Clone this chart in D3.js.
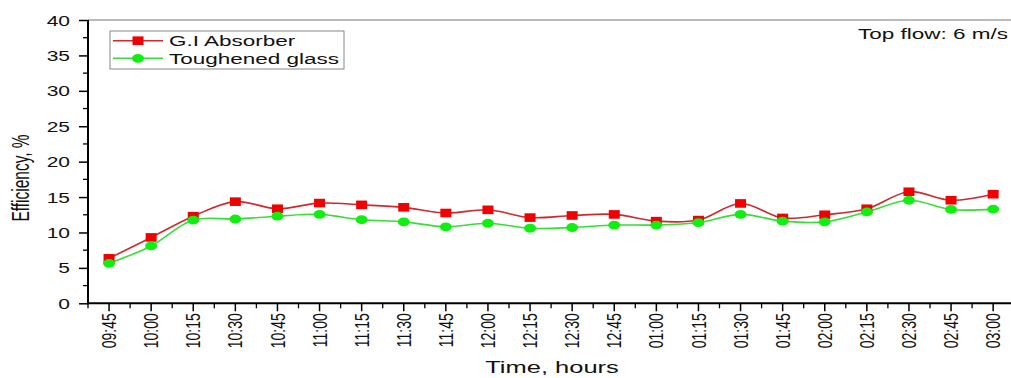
<!DOCTYPE html>
<html><head><meta charset="utf-8">
<script src="https://cdn.jsdelivr.net/npm/d3@7"></script>
<style>
body{margin:0;background:#fff;}
svg{display:block;font-family:Arial,"Liberation Sans",sans-serif;}
</style></head>
<body><svg id="c" width="1011" height="378"></svg>
<script>
const times = ["09:45","10:00","10:15","10:30","10:45","11:00","11:15","11:30","11:45","12:00","12:15","12:30","12:45","01:00","01:15","01:30","01:45","02:00","02:15","02:30","02:45","03:00"];
const giAbsorber = [6.35,9.3,12.3,14.35,13.35,14.15,13.9,13.55,12.75,13.2,12.1,12.4,12.55,11.6,11.75,14.1,12.05,12.5,13.35,15.75,14.55,15.4];
const toughenedGlass = [5.65,8.1,11.75,11.9,12.3,12.55,11.8,11.5,10.8,11.3,10.6,10.7,11.05,11.05,11.4,12.55,11.6,11.5,12.9,14.55,13.25,13.3];
const yTicks = [0,5,10,15,20,25,30,35,40];
const seriesNames = ["G.I Absorber","Toughened glass"];

const SX = 1.5; // horizontal stretch of the original picture
const svg = d3.select("#c");
const pLeft = 88, pTop = 20, pBottom = 303.3, pRight = 88 + 22*42.1;

const x = d3.scaleBand().domain(times).range([pLeft, pRight]).paddingInner(0).paddingOuter(0);
const y = d3.scaleLinear().domain([0,40]).range([pBottom, pTop]);
const cx = d => x(d) + x.bandwidth()/2;

// top frame
svg.append("line").attr("x1",pLeft).attr("x2",1011).attr("y1",pTop).attr("y2",pTop)
  .attr("stroke","#777").attr("stroke-width",1.2);

// minor ticks
const gMinor = svg.append("g");
times.forEach(t => {
  gMinor.append("line").attr("x1",x(t)).attr("x2",x(t)).attr("y1",pBottom).attr("y2",pBottom+5).attr("stroke","#000").attr("stroke-width",1.3);
});
gMinor.append("line").attr("x1",pRight).attr("x2",pRight).attr("y1",pBottom).attr("y2",pBottom+5).attr("stroke","#000").attr("stroke-width",1.3);
for (let v=2.5; v<40; v+=5) {
  gMinor.append("line").attr("x1",pLeft-5).attr("x2",pLeft).attr("y1",y(v)).attr("y2",y(v)).attr("stroke","#000").attr("stroke-width",1.3);
}

// x axis
const gx = svg.append("g").attr("transform",`translate(0,${pBottom})`)
  .call(d3.axisBottom(x).tickSize(8).tickSizeOuter(0));
gx.select(".domain").attr("stroke","#000").attr("stroke-width",2).attr("d",`M${pLeft},0H1011`);
gx.selectAll(".tick line").attr("stroke","#000").attr("stroke-width",1.5);
gx.selectAll(".tick text")
  .attr("font-size",14).attr("font-family","Arial,'Liberation Sans',sans-serif").attr("fill","#111")
  .attr("text-anchor","end").attr("x",0).attr("y",0).attr("dy",null)
  .attr("transform",`translate(0,10) scale(${SX},1) rotate(-90)`)
  .attr("dominant-baseline","central");

// y axis
const gy = svg.append("g").attr("transform",`translate(${pLeft},0)`)
  .call(d3.axisLeft(y).tickValues(yTicks).tickSize(9).tickSizeOuter(0));
gy.select(".domain").attr("stroke","#000").attr("stroke-width",2).attr("d",`M0,${pTop}V${pBottom+1}`);
gy.selectAll(".tick line").attr("stroke","#000").attr("stroke-width",1.5);
gy.selectAll(".tick text")
  .attr("font-size",14).attr("font-family","Arial,'Liberation Sans',sans-serif").attr("fill","#111")
  .attr("x",0).attr("dy","0.36em").attr("text-anchor","end")
  .attr("transform",`translate(-18,0) scale(${SX},1)`);

// lines
const line = d3.line().x((d,i)=>cx(times[i])).y(d=>y(d)).curve(d3.curveCatmullRom.alpha(0.5));
svg.append("path").datum(giAbsorber).attr("d",line).attr("fill","none").attr("stroke","#d0282c").attr("stroke-width",1.6);
svg.append("path").datum(toughenedGlass).attr("d",line).attr("fill","none").attr("stroke","#33e033").attr("stroke-width",1.6);

// markers
svg.append("g").selectAll("rect").data(giAbsorber).join("rect")
  .attr("x",(d,i)=>cx(times[i])-5.5).attr("y",d=>y(d)-4.3).attr("width",11).attr("height",8.6)
  .attr("fill","#f00000");
svg.append("g").selectAll("ellipse").data(toughenedGlass).join("ellipse")
  .attr("cx",(d,i)=>cx(times[i])).attr("cy",d=>y(d)).attr("rx",6).attr("ry",4.4)
  .attr("fill","#11ee11");

// legend
svg.append("rect").attr("x",110).attr("y",31).attr("width",234).attr("height",38)
  .attr("fill","#fff").attr("stroke","#888").attr("stroke-width",1);
const legY = [40.7, 58.3];
const legColors = [["#d0282c","#f00000"],["#33e033","#11ee11"]];
seriesNames.forEach((n,i)=>{
  svg.append("line").attr("x1",113).attr("x2",163).attr("y1",legY[i]).attr("y2",legY[i]).attr("stroke",legColors[i][0]).attr("stroke-width",1.6);
  if(i===0) svg.append("rect").attr("x",132.5).attr("y",legY[i]-4.3).attr("width",11).attr("height",8.6).attr("fill",legColors[i][1]);
  else svg.append("ellipse").attr("cx",138).attr("cy",legY[i]).attr("rx",6).attr("ry",4.4).attr("fill",legColors[i][1]);
  svg.append("text").attr("transform",`translate(169,${legY[i]+5.3}) scale(${SX},1)`)
    .attr("font-size",15).attr("fill","#111").text(n);
});

// annotation
svg.append("text").attr("transform",`translate(1008,39) scale(${SX},1)`).attr("text-anchor","end")
  .attr("font-size",15).attr("fill","#111").text("Top flow: 6 m/s");

// axis titles
svg.append("text").attr("transform",`translate(552,373) scale(${SX},1)`).attr("text-anchor","middle")
  .attr("font-size",17).attr("fill","#111").text("Time, hours");
svg.append("text").attr("transform",`translate(29,178) scale(${SX},1) rotate(-90)`).attr("text-anchor","middle")
  .attr("font-size",15.5).attr("fill","#111").text("Efficiency, %");
</script></body></html>
